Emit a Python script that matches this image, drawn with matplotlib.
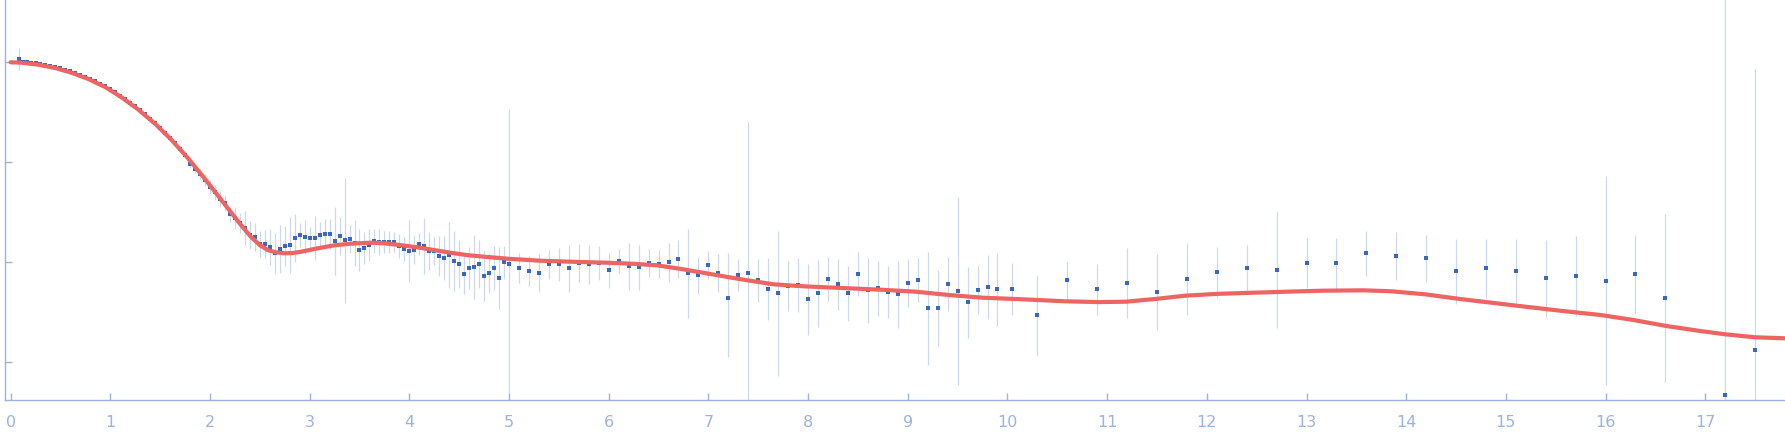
import numpy as np
import matplotlib.pyplot as plt

# scattering data, y is log10 scale (one tick = one decade)
q = [0.08, 0.12, 0.16, 0.20, 0.25, 0.30, 0.35, 0.40, 0.45, 0.50,
     0.55, 0.60, 0.65, 0.70, 0.75, 0.80, 0.85, 0.90, 0.95, 1.00,
     1.05, 1.10, 1.15, 1.20, 1.25, 1.30, 1.35, 1.40, 1.45, 1.50,
     1.55, 1.60, 1.65, 1.70,
     1.75, 1.80, 1.85, 1.90, 1.95, 2.00, 2.05, 2.10, 2.15, 2.20,
     2.25, 2.30, 2.35, 2.40, 2.45, 2.50, 2.55, 2.60, 2.65, 2.70,
     2.75, 2.80, 2.85, 2.90, 2.95, 3.00, 3.05, 3.10, 3.15, 3.20,
     3.25, 3.30, 3.35, 3.40, 3.45, 3.50, 3.55, 3.60, 3.65, 3.70,
     3.75, 3.80, 3.85, 3.90, 3.95, 4.00, 4.05, 4.10, 4.15, 4.20,
     4.25, 4.30, 4.35, 4.40, 4.45, 4.50, 4.55, 4.60, 4.65, 4.70,
     4.75, 4.80, 4.85, 4.90, 4.95, 5.00,
     5.10, 5.20, 5.30, 5.40, 5.50, 5.60, 5.70, 5.80, 5.90, 6.00,
     6.10, 6.20, 6.30, 6.40, 6.50, 6.60, 6.70, 6.80, 6.90, 7.00,
     7.10, 7.20, 7.30, 7.40, 7.50, 7.60, 7.70, 7.80, 7.90, 8.00,
     8.10, 8.20, 8.30, 8.40, 8.50, 8.60, 8.70, 8.80, 8.90, 9.00,
     9.10, 9.20, 9.30, 9.40, 9.50, 9.60, 9.70, 9.80, 9.90, 10.05,
     10.30, 10.60, 10.90, 11.20, 11.50, 11.80, 12.10, 12.40, 12.70, 13.00,
     13.30, 13.60, 13.90, 14.20, 14.50, 14.80, 15.10, 15.40, 15.70, 16.00,
     16.30, 16.60, 17.20, 17.50]

logI = [3.033, 3.005, 3.002, 2.997, 2.990, 2.984, 2.975, 2.964, 2.952, 2.939,
        2.925, 2.910, 2.892, 2.874, 2.855, 2.834, 2.810, 2.787, 2.762, 2.730,
        2.700, 2.668, 2.633, 2.597, 2.560, 2.521, 2.480, 2.437, 2.394, 2.346,
        2.297, 2.247, 2.193, 2.136,
        2.070, 1.983, 1.933, 1.883, 1.823, 1.750, 1.700, 1.630, 1.590, 1.480,
        1.440, 1.390, 1.340, 1.273, 1.250, 1.183, 1.180, 1.150, 1.090, 1.133,
        1.160, 1.170, 1.240, 1.270, 1.250, 1.240, 1.240, 1.270, 1.280, 1.280,
        1.210, 1.260, 1.220, 1.230, 1.190, 1.120, 1.140, 1.170, 1.213, 1.200,
        1.200, 1.200, 1.200, 1.160, 1.130, 1.110, 1.120, 1.180, 1.160, 1.110,
        1.110, 1.060, 1.040, 1.070, 1.010, 0.980, 0.880, 0.940, 0.950, 0.980,
        0.860, 0.890, 0.940, 0.840, 1.000, 0.980,
        0.940, 0.910, 0.890, 0.980, 0.980, 0.940, 0.990, 0.980, 0.990, 0.920,
        1.010, 0.960, 0.950, 0.990, 0.980, 1.000, 1.030, 0.890, 0.870, 0.970,
        0.890, 0.640, 0.870, 0.890, 0.820, 0.730, 0.690, 0.760, 0.770, 0.630,
        0.690, 0.830, 0.780, 0.690, 0.880, 0.720, 0.740, 0.700, 0.680, 0.790,
        0.820, 0.540, 0.540, 0.780, 0.710, 0.600, 0.720, 0.750, 0.730, 0.730,
        0.470, 0.820, 0.730, 0.790, 0.700, 0.830, 0.900, 0.940, 0.920, 0.990,
        0.990, 1.090, 1.060, 1.040, 0.910, 0.940, 0.910, 0.840, 0.860, 0.810,
        0.880, 0.640, -0.330, 0.120]

err = [0.110, 0.010, 0.010, 0.010, 0.012, 0.012, 0.012, 0.012, 0.014, 0.014,
       0.014, 0.015, 0.015, 0.015, 0.016, 0.016, 0.016, 0.018, 0.018, 0.018,
       0.020, 0.020, 0.020, 0.045, 0.022, 0.022, 0.024, 0.024, 0.025, 0.025,
       0.026, 0.026, 0.028, 0.028,
       0.030, 0.035, 0.040, 0.050, 0.060, 0.070, 0.075, 0.080, 0.080, 0.075,
       0.110, 0.100, 0.170, 0.140, 0.140, 0.130, 0.140, 0.180, 0.200, 0.240,
       0.200, 0.280, 0.240, 0.120, 0.170, 0.110, 0.220, 0.130, 0.150, 0.150,
       0.340, 0.190, 0.000, 0.140, 0.230, 0.210, 0.160, 0.160, 0.120, 0.130,
       0.110, 0.110, 0.100, 0.120, 0.120, 0.310, 0.140, 0.110, 0.280, 0.190,
       0.140, 0.200, 0.220, 0.330, 0.300, 0.240, 0.200, 0.210, 0.320, 0.240,
       0.250, 0.200, 0.220, 0.310, 0.165, 0.000,
       0.150, 0.150, 0.190, 0.145, 0.165, 0.235, 0.190, 0.195, 0.170, 0.175,
       0.120, 0.235, 0.225, 0.140, 0.140, 0.195, 0.190, 0.445, 0.185, 0.140,
       0.190, 0.000, 0.160, 0.000, 0.215, 0.310, 0.000, 0.250, 0.270, 0.355,
       0.335, 0.220, 0.255, 0.275, 0.220, 0.325, 0.275, 0.260, 0.335, 0.240,
       0.220, 0.565, 0.380, 0.270, 0.000, 0.355, 0.240, 0.320, 0.365, 0.260,
       0.395, 0.185, 0.255, 0.350, 0.380, 0.360, 0.257, 0.237, 0.000, 0.250,
       0.255, 0.227, 0.240, 0.232, 0.327, 0.295, 0.320, 0.387, 0.400, 0.000,
       0.390, 0.000, 0.000, 0.000]

# very uncertain points: error bar ends read directly
tall_q = [3.35, 5.00, 7.20, 7.40, 7.70, 9.50, 12.70, 16.00, 16.60, 17.20, 17.50]
tall_top = [1.84, 2.53, 1.09, 2.40, 1.31, 1.65, 1.50, 1.86, 1.48, 3.80, 2.93]
tall_bottom = [0.59, -0.31, 0.05, -0.45, -0.14, -0.23, 0.34, -0.23, -0.20, -0.45, -0.45]

# fitted model curve
fit_q = [0.0, 0.11, 0.28, 0.45, 0.61, 0.78, 0.95, 1.11, 1.28, 1.45,
         1.61, 1.78, 1.95, 2.08, 2.25, 2.33, 2.41, 2.50, 2.58, 2.66, 2.75,
         2.83, 2.91, 3.08, 3.25, 3.41, 3.61, 3.75, 3.91, 4.08, 4.25,
         4.41, 4.58, 4.75, 5.00, 5.31, 5.65, 5.98, 6.25, 6.48, 6.71,
         6.98, 7.31, 7.65, 7.95, 8.41, 8.75, 9.08, 9.41, 9.75, 10.08,
         10.58, 10.92, 11.19, 11.50, 11.78, 12.10, 12.47, 12.80, 13.16, 13.57,
         13.85, 14.19, 14.54, 15.05, 15.57, 15.95, 16.28, 16.61, 16.95, 17.20,
         17.50, 17.80]
fit_logI = [3.000, 2.996, 2.976, 2.942, 2.896, 2.833, 2.752, 2.652, 2.528, 2.385,
            2.229, 2.041, 1.833, 1.667, 1.450, 1.350, 1.255, 1.172, 1.122, 1.100, 1.090,
            1.093, 1.105, 1.140, 1.170, 1.186, 1.196, 1.190, 1.172, 1.150, 1.122,
            1.096, 1.072, 1.056, 1.035, 1.016, 1.005, 0.996, 0.985, 0.970, 0.936,
            0.890, 0.833, 0.780, 0.760, 0.740, 0.725, 0.706, 0.673, 0.646, 0.633,
            0.610, 0.602, 0.606, 0.635, 0.666, 0.684, 0.696, 0.706, 0.716, 0.720,
            0.710, 0.680, 0.633, 0.573, 0.513, 0.473, 0.423, 0.363, 0.313, 0.280,
            0.250, 0.240]

q = np.array(q)
logI = np.array(logI)
err_lo = np.array(err)
err_hi = np.array(err)
for tq, top, bot in zip(tall_q, tall_top, tall_bottom):
    i = np.argmin(np.abs(q - tq))
    err_hi[i] = top - logI[i]
    err_lo[i] = logI[i] - bot

axis_col = '#9db2dd'

fig = plt.figure(figsize=(17.85, 4.38), dpi=100)
ax = fig.add_axes([5.3 / 1785, 38 / 438, 1 - 5.3 / 1785, 400 / 438])

ax.errorbar(q, logI, yerr=[err_lo, err_hi], fmt='none', ecolor='#cdd8ec', elinewidth=0.9, zorder=1)
ax.plot(q, logI, 's', color='#3a68bf', ms=2.8, mew=0, zorder=2)
ax.plot(fit_q, fit_logI, color='#ee6462', lw=3, solid_capstyle='round',
        solid_joinstyle='round', zorder=3)

ax.set_xlim(-0.053, 17.8)
ax.set_ylim(-0.377, 3.623)
ax.set_xticks(range(0, 18))
ax.set_yticks([0, 1, 2, 3])
ax.set_yticklabels([])
ax.tick_params(axis='both', direction='in', length=5, width=1, color=axis_col)
ax.tick_params(axis='x', labelsize=11.5, labelcolor=axis_col, pad=11)

for s in ['top', 'right']:
    ax.spines[s].set_visible(False)
for s in ['left', 'bottom']:
    ax.spines[s].set_color(axis_col)
    ax.spines[s].set_linewidth(1)

fig.savefig('out.png', dpi=100)
